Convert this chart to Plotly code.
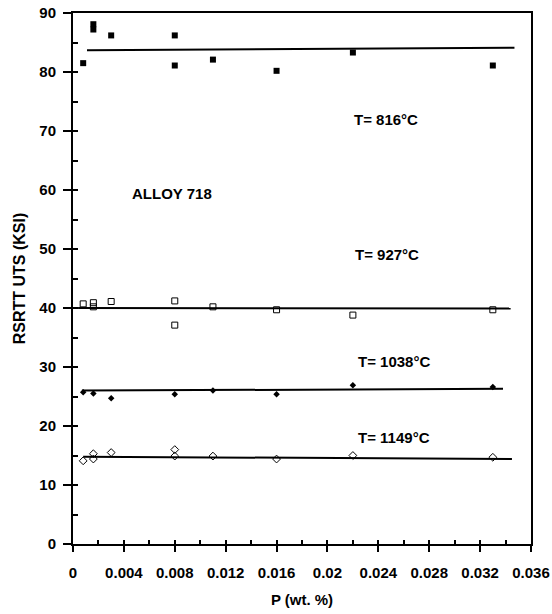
import plotly.graph_objects as go

# ---- data ----
x816 = [0.0008, 0.0016, 0.0016, 0.003, 0.008, 0.008, 0.011, 0.016, 0.022, 0.033]
y816 = [81.5, 88.1, 87.2, 86.2, 86.2, 81.1, 82.1, 80.2, 83.3, 81.1]

x927 = [0.0008, 0.0016, 0.0016, 0.003, 0.008, 0.008, 0.011, 0.016, 0.022, 0.033]
y927 = [40.7, 40.9, 40.2, 41.1, 41.2, 37.1, 40.2, 39.7, 38.8, 39.7]

x1038 = [0.0008, 0.0016, 0.003, 0.008, 0.011, 0.016, 0.022, 0.033]
y1038 = [25.7, 25.5, 24.7, 25.4, 26.0, 25.4, 26.9, 26.6]

x1149 = [0.0008, 0.0016, 0.0016, 0.003, 0.008, 0.008, 0.011, 0.016, 0.022, 0.033]
y1149 = [14.1, 15.3, 14.4, 15.5, 16.0, 14.9, 14.9, 14.4, 15.0, 14.7]

fit816_x = [0.0011, 0.0347]
fit816_y = [83.7, 84.1]
fit927_x = [0.0004, 0.0344]
fit927_y = [40.0, 39.9]
fit1038_x = [0.0007, 0.0338]
fit1038_y = [26.0, 26.3]
fit1149_x = [0.0008, 0.0345]
fit1149_y = [14.8, 14.4]

x_ticks = [0, 0.004, 0.008, 0.012, 0.016, 0.02, 0.024, 0.028, 0.032, 0.036]
x_ticktext = ["0", "0.004", "0.008", "0.012", "0.016", "0.02", "0.024", "0.028", "0.032", "0.036"]
y_ticks = [0, 10, 20, 30, 40, 50, 60, 70, 80, 90]

labels = ["T= 816°C", "ALLOY 718", "T= 927°C", "T= 1038°C", "T= 1149°C"]
label_x = [0.0246, 0.0078, 0.0247, 0.0252, 0.0252]
label_y = [71.9, 59.4, 49.0, 30.9, 18.0]

FONT = "Liberation Sans, Arial, sans-serif"
FS = 15

fig = go.Figure()

for fx, fy in [(fit816_x, fit816_y), (fit927_x, fit927_y),
               (fit1038_x, fit1038_y), (fit1149_x, fit1149_y)]:
    fig.add_trace(go.Scatter(x=fx, y=fy, mode="lines",
                             line=dict(color="black", width=2),
                             showlegend=False, hoverinfo="skip"))

fig.add_trace(go.Scatter(x=x816, y=y816, mode="markers",
                         marker=dict(symbol="square", size=6, color="black"),
                         showlegend=False))
fig.add_trace(go.Scatter(x=x927, y=y927, mode="markers",
                         marker=dict(symbol="square-open", size=6, color="black",
                                     line=dict(width=1, color="black")),
                         showlegend=False))
fig.add_trace(go.Scatter(x=x1038, y=y1038, mode="markers",
                         marker=dict(symbol="diamond", size=5, color="black"),
                         showlegend=False))
fig.add_trace(go.Scatter(x=x1149, y=y1149, mode="markers",
                         marker=dict(symbol="diamond-open", size=6, color="black",
                                     line=dict(width=1, color="black")),
                         showlegend=False))

# invisible trace on overlay axes to draw inside tick marks
fig.add_trace(go.Scatter(x=[0], y=[0], xaxis="x2", yaxis="y2", mode="markers",
                         marker=dict(opacity=0), showlegend=False, hoverinfo="skip"))

for t, lx, ly in zip(labels, label_x, label_y):
    fig.add_annotation(x=lx, y=ly, text=t, showarrow=False,
                       font=dict(family=FONT, size=FS, color="black", weight="bold"),
                       xanchor="center", yanchor="middle")

fig.update_layout(
    width=552, height=614,
    margin=dict(l=73, r=21, t=13, b=70),
    paper_bgcolor="white", plot_bgcolor="white",
    font=dict(family=FONT, color="black"),
    xaxis=dict(range=[0, 0.036], tickvals=x_ticks, ticktext=x_ticktext,
               ticks="outside", ticklen=6, tickwidth=1.5, tickcolor="black",
               showline=True, linecolor="black", linewidth=2, mirror=True,
               showgrid=False, zeroline=False, ticklabelstandoff=8, automargin=False,
               tickfont=dict(family=FONT, size=FS, color="black", weight="bold"),
               title=dict(text="P (wt. %)", standoff=14,
                          font=dict(family=FONT, size=FS, color="black", weight="bold"))),
    yaxis=dict(range=[0, 90], tickvals=y_ticks,
               ticks="outside", ticklen=8, tickwidth=1.5, tickcolor="black",
               showline=True, linecolor="black", linewidth=2, mirror=True,
               showgrid=False, zeroline=False, ticklabelstandoff=4, automargin=False,
               tickfont=dict(family=FONT, size=FS, color="black", weight="bold"),
               title=dict(text="RSRTT UTS (KSI)", standoff=10,
                          font=dict(family=FONT, size=FS + 1, color="black", weight="bold"))),
    xaxis2=dict(overlaying="x", matches="x", side="bottom", dtick=0.002, tick0=0,
                ticks="inside", ticklen=4, tickwidth=1.5, tickcolor="black",
                showticklabels=False, showline=False, showgrid=False, zeroline=False),
    yaxis2=dict(overlaying="y", matches="y", side="left", dtick=5, tick0=0,
                ticks="inside", ticklen=5, tickwidth=1.5, tickcolor="black",
                showticklabels=False, showline=False, showgrid=False, zeroline=False),
)

fig.write_html("out.html")
